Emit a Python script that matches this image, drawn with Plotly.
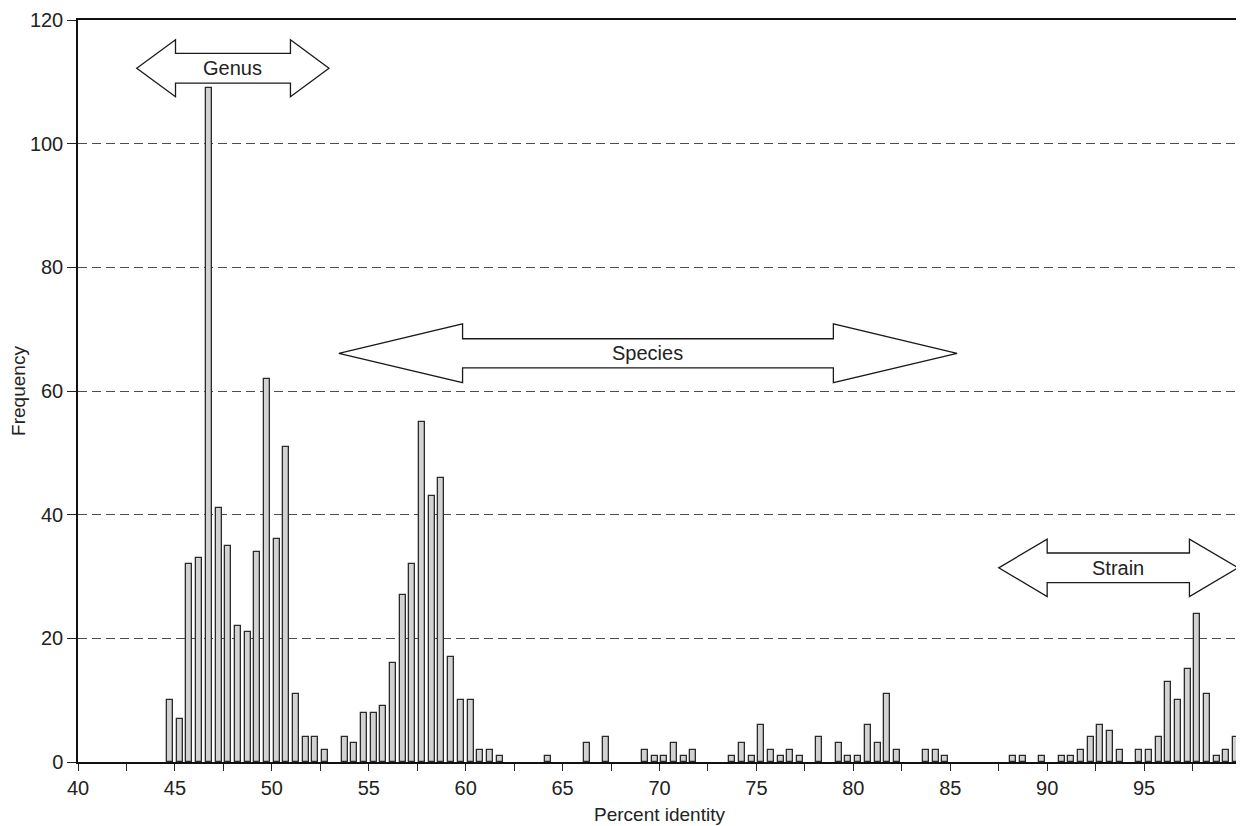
import plotly.graph_objects as go

# ---- data ----
bin_start = 40.0
bin_width = 0.5
frequency = [
    0, 0, 0, 0, 0, 0, 0, 0, 0, 10,      # 40.0 - 44.5
    7, 32, 33, 109, 41, 35, 22, 21, 34, 62,   # 45.0 - 49.5
    36, 51, 11, 4, 4, 2, 0, 4, 3, 8,    # 50.0 - 54.5
    8, 9, 16, 27, 32, 55, 43, 46, 17, 10,     # 55.0 - 59.5
    10, 2, 2, 1, 0, 0, 0, 0, 1, 0,      # 60.0 - 64.5
    0, 0, 3, 0, 4, 0, 0, 0, 2, 1,       # 65.0 - 69.5
    1, 3, 1, 2, 0, 0, 0, 1, 3, 1,       # 70.0 - 74.5
    6, 2, 1, 2, 1, 0, 4, 0, 3, 1,       # 75.0 - 79.5
    1, 6, 3, 11, 2, 0, 0, 2, 2, 1,      # 80.0 - 84.5
    0, 0, 0, 0, 0, 0, 1, 1, 0, 1,       # 85.0 - 89.5
    0, 1, 1, 2, 4, 6, 5, 2, 0, 2,       # 90.0 - 94.5
    2, 4, 13, 10, 15, 24, 11, 1, 2, 4,  # 95.0 - 99.5
]
bin_centers = [bin_start + bin_width * (i + 0.5) for i in range(len(frequency))]

x_tick_values = [40 + 2.5 * k for k in range(24)]
x_tick_labels = [str(int(v)) if k % 2 == 0 else "" for k, v in enumerate(x_tick_values)]
y_tick_values = [0, 20, 40, 60, 80, 100, 120]
x_title = "Percent identity"
y_title = "Frequency"

# range arrows
arrow_labels = ["Genus", "Species", "Strain"]
arrow_tip_left = [43.03, 53.46, 87.5]
arrow_shaft_left = [45.03, 59.84, 90.0]
arrow_shaft_right = [50.96, 78.97, 97.34]
arrow_tip_right = [52.95, 85.35, 99.85]
arrow_y_mid = [112.2, 66.1, 31.4]
arrow_head_half = [4.6, 4.75, 4.65]
arrow_shaft_half = [2.4, 2.35, 2.4]

FONT = "Liberation Sans, Arial, Helvetica, sans-serif"
# the page body has an 8px default margin, so the figure is sized to fit the window
OFF = 8
W, H = 1244 - OFF, 826 - OFF
M_L, M_R, M_T, M_B = 78 - OFF, 1, 16 - OFF, 64
plot_h = H - M_T - M_B
axis_y = H - M_B

# empty bins get no outline so they do not draw stubs along the baseline
bar_line_widths = [1.3 if v > 0 else 0 for v in frequency]

fig = go.Figure()
fig.add_trace(go.Bar(
    x=bin_centers, y=frequency, width=0.31,
    marker=dict(color="#d2d2d2", line=dict(color="#2a2a2a", width=bar_line_widths)),
    showlegend=False, hoverinfo="x+y",
))

shapes = []
annotations = []
for lab, a, b, c, d, ym, hh, sh in zip(arrow_labels, arrow_tip_left, arrow_shaft_left,
                                       arrow_shaft_right, arrow_tip_right, arrow_y_mid,
                                       arrow_head_half, arrow_shaft_half):
    path = (f"M {a},{ym} L {b},{ym+hh} L {b},{ym+sh} L {c},{ym+sh} L {c},{ym+hh} "
            f"L {d},{ym} L {c},{ym-hh} L {c},{ym-sh} L {b},{ym-sh} L {b},{ym-hh} Z")
    shapes.append(dict(type="path", path=path, xref="x", yref="y",
                       fillcolor="white", line=dict(color="#1a1a1a", width=1.3), layer="above"))
    annotations.append(dict(x=(b + c) / 2, y=ym, xref="x", yref="y", text=lab,
                            showarrow=False, font=dict(family=FONT, size=20, color="#222")))

# x-axis title placed as an annotation just above the bottom edge
annotations.append(dict(x=0.5, y=-((815 - OFF) - axis_y) / plot_h, xref="paper", yref="paper",
                        xanchor="center", yanchor="middle", text=x_title, showarrow=False,
                        font=dict(family=FONT, size=19, color="#222")))

fig.update_layout(
    width=W, height=H,
    margin=dict(l=M_L, r=M_R, t=M_T, b=M_B),
    paper_bgcolor="white", plot_bgcolor="white",
    font=dict(family=FONT, size=20, color="#222"),
    shapes=shapes, annotations=annotations,
    bargap=0,
)
fig.update_xaxes(
    range=[40, 100], tickmode="array", tickvals=x_tick_values, ticktext=x_tick_labels,
    ticks="outside", ticklen=7, tickwidth=1.2, tickcolor="#222",
    showline=True, linecolor="#111", linewidth=1.5, mirror=True,
    showgrid=False, zeroline=False, ticklabeloverflow="allow",
    tickfont=dict(size=20),
)
fig.update_yaxes(
    range=[0, 120], tickmode="array", tickvals=y_tick_values,
    ticks="outside", ticklen=9, tickwidth=1.2, tickcolor="#222",
    showline=True, linecolor="#111", linewidth=1.5, mirror=True,
    showgrid=True, gridcolor="#4d4d4d", gridwidth=1, griddash="9px,5px",
    zeroline=False, ticklabeloverflow="allow",
    title=dict(text=y_title, standoff=4, font=dict(size=19)),
    tickfont=dict(size=20),
)

fig.write_html("out.html")
